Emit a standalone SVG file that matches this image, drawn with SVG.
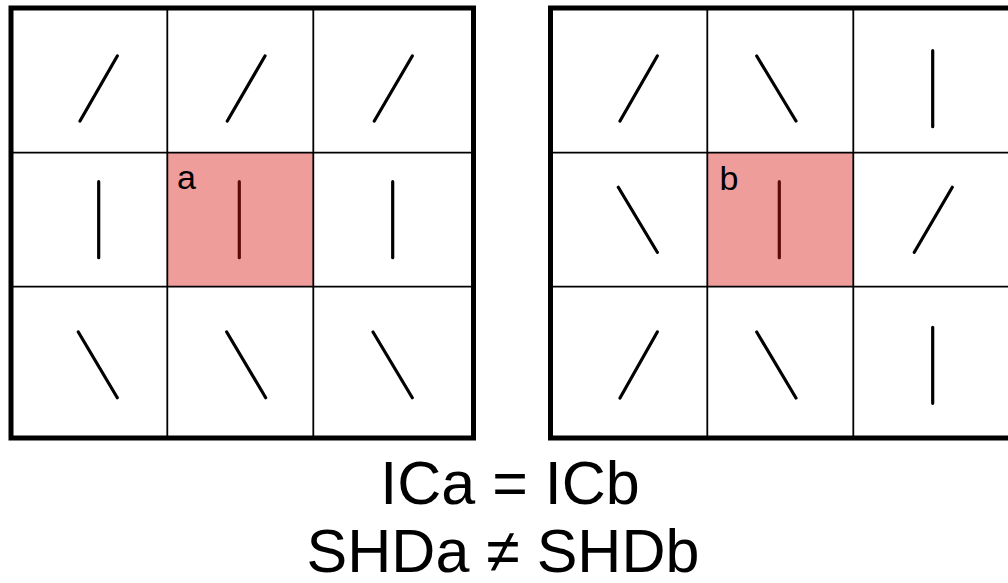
<svg xmlns="http://www.w3.org/2000/svg" width="1008" height="583" viewBox="0 0 1008 583">
<style>
.grid{fill:none;stroke:#000;stroke-width:1.8}
.outer{fill:none;stroke:#000;stroke-width:5}
.hl{fill:#EE9D9A}
.bar{stroke:#000;stroke-width:3.2;stroke-linecap:round;fill:none}
.cbar{stroke:#5A0A0A;stroke-width:3.2;stroke-linecap:round;fill:none}
.lbl{font-family:"Liberation Sans",Arial,sans-serif;font-size:34px;fill:#000}
.eq{font-family:"Liberation Sans",Arial,sans-serif;font-size:61px;fill:#000;text-anchor:middle}
</style>
<rect width="1008" height="583" fill="#fff"/>
<g id="gridA">
<rect class="hl" x="167.3" y="152.7" width="146" height="134"/>
<path class="grid" d="M167.3 8V438M313.3 8V438M11 152.7H473.5M11 286.7H473.5"/>
<rect class="outer" x="11" y="8" width="462.5" height="430"/>
</g>
<g id="gridB">
<rect class="hl" x="707.3" y="152.7" width="146" height="134"/>
<path class="grid" d="M707.3 8V438M853.3 8V438M550.5 152.7H1013.5M550.5 286.7H1013.5"/>
<rect class="outer" x="550.5" y="8" width="463" height="430"/>
</g>
<g id="barsA">
<path class="bar" d="M117.3 56L80 121M265 56L227.3 121M412.3 56L374.3 121"/>
<path class="bar" d="M98.7 181.7V257.7M392.7 181.7V257.7"/>
<path class="cbar" d="M239.3 181.7V257.7"/>
<path class="bar" d="M78.3 332L117.3 397.7M226.7 332L265.7 397.7M373 332L412.3 397.7"/>
<text class="lbl" x="177" y="189">a</text>
</g>
<g id="barsB">
<path class="bar" d="M657.3 56L620 121M756.7 56L796 121M932.7 50.7V126.7"/>
<path class="bar" d="M618.3 187.3L657.3 252.3M952.3 187.3L914.3 252.3"/>
<path class="cbar" d="M779.3 181.7V257.7"/>
<path class="bar" d="M657.3 332L620 398M756.7 332L796 398M932.7 327.3V403.3"/>
<text class="lbl" x="719.5" y="190">b</text>
</g>
<g id="caption">
<text class="eq" x="510" y="504">ICa = ICb</text>
<text class="eq" x="503" y="572">SHDa ≠ SHDb</text>
</g>
</svg>
